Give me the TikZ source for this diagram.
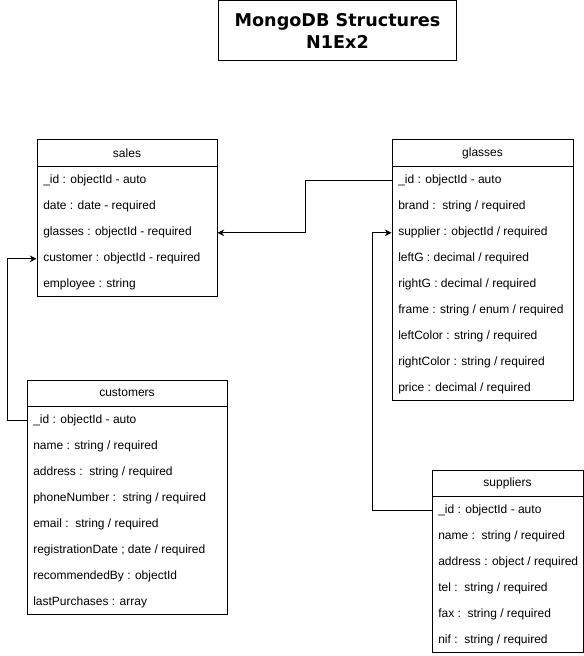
\documentclass[tikz,border=0pt]{standalone}
\usepackage{fontspec}
\setmainfont{Liberation Sans}
\newfontfamily\titlefont{DejaVu Sans}
\usetikzlibrary{arrows.meta}
\tikzset{
  hdr/.style={draw=black, line width=0.75pt, minimum height=19.5pt, inner sep=0pt, font=\fontsize{9}{11}\selectfont},
  bodybox/.style={draw=black, line width=0.75pt, inner sep=0pt},
  fld/.style={anchor=west, inner sep=0pt, yshift=-0.6pt, font=\fontsize{9}{11}\selectfont},
  conn/.style={draw=black, line width=0.75pt, -{Stealth[length=5pt,width=5pt]}},
  titlebox/.style={draw=black, line width=0.75pt, inner sep=0pt, align=center, font=\titlefont\bfseries\fontsize{13.2}{16.8}\selectfont}
}
\begin{document}
\begin{tikzpicture}[x=0.75pt,y=-0.75pt]
\useasboundingbox (0,0) rectangle (583,656);
% title
\node[titlebox, minimum width=179pt, minimum height=45pt] (title) at (337.5,31) {MongoDB Structures\\N1Ex2};
% sales
\node[hdr, minimum width=135pt] (salesH) at (127,153) {sales};
\node[bodybox, minimum width=135pt, minimum height=97.5pt] (salesB) at (127,231) {};
\node[fld] (sales1) at (43,180) {\_id : objectId - auto};
\node[fld] (sales2) at (43,206) {date : date - required};
\node[fld] (sales3) at (43,232) {glasses : objectId - required};
\node[fld] (sales4) at (43,258) {customer : objectId - required};
\node[fld] (sales5) at (43,284) {employee : string};
% glasses
\node[hdr, minimum width=135.75pt] (glassesH) at (482.5,153) {glasses};
\node[bodybox, minimum width=135.75pt, minimum height=175.5pt] (glassesB) at (482.5,283) {};
\node[fld] (gl1) at (398,180) {\_id : objectId - auto};
\node[fld] (gl2) at (398,206) {brand :\ \ string / required};
\node[fld] (gl3) at (398,232) {supplier : objectId / required};
\node[fld] (gl4) at (398,258) {leftG : decimal / required};
\node[fld] (gl5) at (398,284) {rightG : decimal / required};
\node[fld] (gl6) at (398,310) {frame : string / enum / required};
\node[fld] (gl7) at (398,336) {leftColor : string / required};
\node[fld] (gl8) at (398,362) {rightColor : string / required};
\node[fld] (gl9) at (398,388) {price : decimal / required};
% customers
\node[hdr, minimum width=150pt] (custH) at (127,393) {customers};
\node[bodybox, minimum width=150pt, minimum height=156pt] (custB) at (127,510) {};
\node[fld] (cu1) at (33,420) {\_id : objectId - auto};
\node[fld] (cu2) at (33,446) {name : string / required};
\node[fld] (cu3) at (33,472) {address :\ \ string / required};
\node[fld] (cu4) at (33,498) {phoneNumber :\ \ string / required};
\node[fld] (cu5) at (33,524) {email :\ \ string / required};
\node[fld] (cu6) at (33,550) {registrationDate ; date / required};
\node[fld] (cu7) at (33,576) {recommendedBy : objectId};
\node[fld] (cu8) at (33,602) {lastPurchases : array};
% suppliers
\node[hdr, minimum width=113.25pt] (supH) at (507.5,483) {suppliers};
\node[bodybox, minimum width=113.25pt, minimum height=117pt] (supB) at (507.5,574) {};
\node[fld] (su1) at (438,510) {\_id : objectId - auto};
\node[fld] (su2) at (438,536) {name :\ \ string / required};
\node[fld] (su3) at (438,562) {address : object / required};
\node[fld] (su4) at (438,588) {tel :\ \ string / required};
\node[fld] (su5) at (438,614) {fax :\ \ string / required};
\node[fld] (su6) at (438,640) {nif :\ \ string / required};
% connector bends
\coordinate (b1) at (305,0);
\coordinate (b2) at (7,0);
\coordinate (b3) at (372,0);
% connectors
\draw[conn] (glassesB.west |- gl1) -- (b1 |- gl1) -- (b1 |- sales3) -- (salesB.east |- sales3);
\draw[conn] (custB.west |- cu1) -- (b2 |- cu1) -- (b2 |- sales4) -- (salesB.west |- sales4);
\draw[conn] (supB.west |- su1) -- (b3 |- su1) -- (b3 |- gl3) -- (glassesB.west |- gl3);
\end{tikzpicture}
\end{document}
